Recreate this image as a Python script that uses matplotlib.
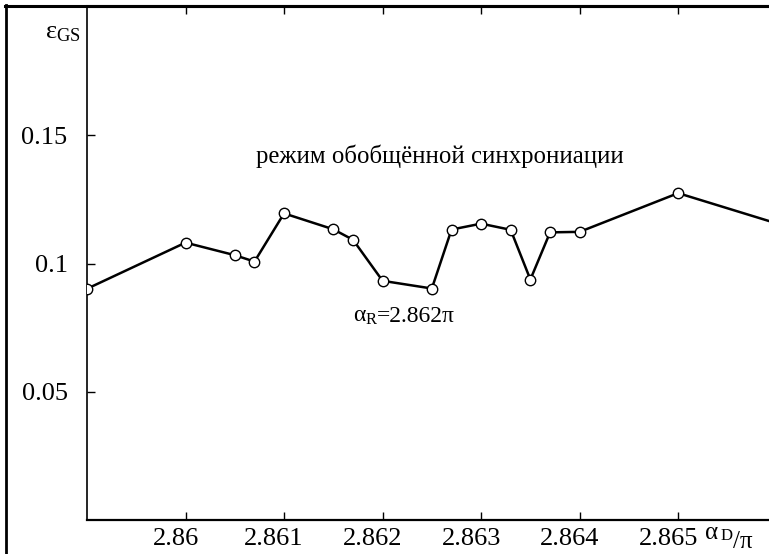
import matplotlib
matplotlib.use("Agg")
import matplotlib.pyplot as plt
from matplotlib.lines import Line2D
from matplotlib.transforms import ScaledTranslation

plt.rcParams['font.family'] = ['Liberation Serif', 'DejaVu Serif']
plt.rcParams['mathtext.fontset'] = 'custom'
plt.rcParams['mathtext.rm'] = 'Liberation Serif'
plt.rcParams['mathtext.it'] = 'Liberation Serif:italic'

# data
alpha_d = [2.859, 2.860, 2.8605, 2.8607, 2.861, 2.8615, 2.8617, 2.862, 2.8625,
           2.8627, 2.863, 2.8633, 2.8635, 2.8637, 2.864, 2.865, 2.866]
eps_gs = [0.0902, 0.1082, 0.1033, 0.1008, 0.1196, 0.1134, 0.1093, 0.0933, 0.0903,
          0.1133, 0.1156, 0.1132, 0.0938, 0.1122, 0.1124, 0.1275, 0.1157]
xticks = [2.860, 2.861, 2.862, 2.863, 2.864, 2.865]
xticklabels = ["2.86", "2.861", "2.862", "2.863", "2.864", "2.865"]
yticks = [0.05, 0.10, 0.15]
yticklabels = ["0.05", "0.1", "0.15"]

W, H = 769, 554
fig = plt.figure(figsize=(W / 100, H / 100), dpi=100)
ax = fig.add_axes([87 / W, 1 - 520 / H, 1 - 87 / W + 0.01, (520 - 6) / H])

ax.plot(alpha_d, eps_gs, color='black', lw=1.8, marker='o', ms=7.5,
        mfc='white', mec='black', mew=1.0, clip_on=True, zorder=3)

ax.set_xlim(2.859, 2.8660)
ax.set_ylim(0.0, 0.2005)
ax.set_xticks(xticks)
ax.set_xticklabels(xticklabels)
ax.set_yticks(yticks)
ax.set_yticklabels(yticklabels)
ax.tick_params(axis='x', direction='in', length=6, width=1.0, top=True,
               labelsize=19, pad=6)
ax.tick_params(axis='y', direction='in', length=6, width=1.0,
               labelsize=19, pad=14)
ax.spines['right'].set_visible(False)
ax.spines['top'].set_linewidth(2.2)
ax.spines['left'].set_linewidth(1.2)
ax.spines['bottom'].set_linewidth(1.6)

# x tick labels sit slightly left of their ticks in the reference
shift = ScaledTranslation(-10 / 100, 0, fig.dpi_scale_trans)
for lab in ax.get_xticklabels():
    lab.set_transform(lab.get_transform() + shift)

# frame lines on the figure
fig.add_artist(Line2D([6 / W, 6 / W], [0, 1 - 4.5 / H], transform=fig.transFigure,
                      color='black', lw=2.0))
fig.add_artist(Line2D([5 / W, 1], [1 - 5.5 / H, 1 - 5.5 / H], transform=fig.transFigure,
                      color='black', lw=2.2))

# labels
fig.text(45 / W, 1 - 38 / H, r'$\mathrm{ε}_{\mathrm{GS}}$', fontsize=19,
         ha='left', va='baseline')
fig.text(705 / W, 1 - 539 / H, 'α', fontsize=18, ha='left', va='baseline')
fig.text(721 / W, 1 - 540 / H, 'D', fontsize=12, ha='left', va='baseline')
fig.text(733 / W, 1 - 548 / H, '/π', fontsize=18, ha='left', va='baseline')

fig.text(440 / W, 1 - 163 / H, 'режим обобщённой синхрониации', fontsize=17.8,
         ha='center', va='baseline')
fig.text(353 / W, 1 - 322 / H, r'$\mathrm{α}_{\mathrm{R}}$', fontsize=17,
         ha='left', va='baseline')
fig.text(377 / W, 1 - 322 / H, '=2.862π', fontsize=17, ha='left', va='baseline')

fig.savefig('out.png', dpi=100)
